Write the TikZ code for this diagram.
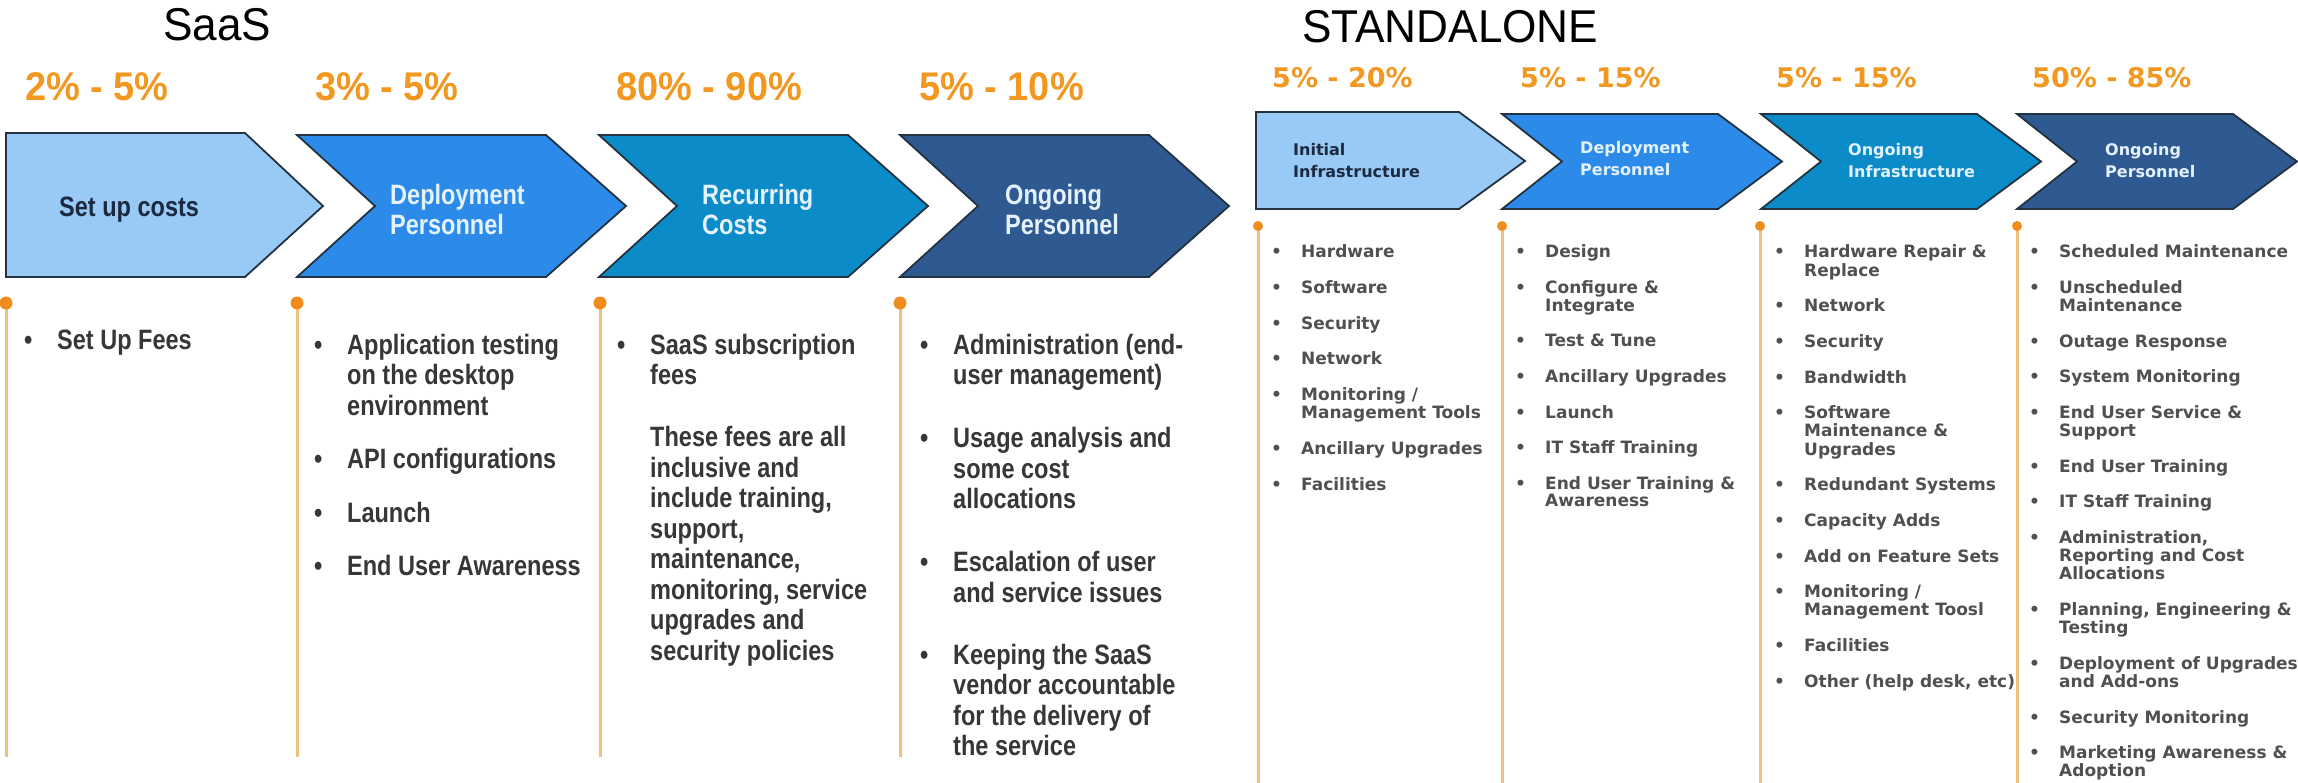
\documentclass[tikz,border=0pt]{standalone}
\usepackage{fontspec}
\setmainfont{Liberation Sans}
\newfontfamily\ttlfont[FakeStretch=0.96]{Liberation Sans}
\newfontfamily\nbfont[FakeStretch=0.84]{Liberation Sans}
\newfontfamily\pcfont[FakeStretch=0.95]{Liberation Sans}
\newfontfamily\dvfont{DejaVu Sans}
\definecolor{cA}{RGB}{153,201,245}
\definecolor{cB}{RGB}{44,139,232}
\definecolor{cC}{RGB}{11,139,200}
\definecolor{cD}{RGB}{46,90,145}
\definecolor{edgecol}{RGB}{35,50,65}
\definecolor{pctcol}{RGB}{242,152,32}
\definecolor{pincol}{RGB}{240,140,30}
\definecolor{stemcol}{RGB}{240,192,125}
\definecolor{navy}{RGB}{27,42,65}
\definecolor{lbl}{RGB}{228,242,255}
\definecolor{txtcol}{RGB}{55,55,55}
\definecolor{sttxt}{RGB}{80,80,80}
\newcommand\sabul{\makebox[33pt][l]{•}}
\newcommand\stbul{\makebox[30pt][l]{•}}
\tikzset{
 chev/.style={draw=edgecol, line width=1.8pt, line join=miter},
 stemline/.style={draw=stemcol, line width=3pt},
 pcsa/.style={text=pctcol, font=\pcfont\bfseries\fontsize{40}{44}\selectfont, anchor=base west, inner sep=0},
 pcst/.style={text=pctcol, font=\dvfont\bfseries\fontsize{27}{30}\selectfont, anchor=base west, inner sep=0},
 salbl/.style={font=\nbfont\bfseries\fontsize{28}{30}\selectfont, anchor=base west, inner sep=0},
 stlbl/.style={font=\dvfont\bfseries\fontsize{16}{22}\selectfont, anchor=base west, inner sep=0},
 sacol/.style={text=txtcol, font=\nbfont\bfseries\fontsize{28}{30.5}\selectfont, anchor=base west, inner sep=0},
 stcol/.style={text=sttxt, font=\dvfont\bfseries\fontsize{17}{17.5}\selectfont, anchor=base west, inner sep=0},
 ttl/.style={font=\ttlfont\fontsize{46}{50}\selectfont, anchor=base west, inner sep=0},
}
\begin{document}
\begin{tikzpicture}[x=1pt,y=-1pt]
\fill[white] (0,0) rectangle (2298,783);
\useasboundingbox (0,0) rectangle (2298,783);

% titles
\node[ttl] (tsaas) at (163,41) {SaaS};
\node[ttl] (tstand) at (1302,43) {STANDALONE};

% ---------- SaaS chevrons
\draw[chev, fill=cA] (6,133) -- (245,133) -- (323,206) -- (245,277) -- (6,277) -- cycle;
\foreach \L/\c in {297/cB, 599/cC, 900/cD}
  \draw[chev, fill=\c] (\L,135) -- ++(249,0) -- ++(80,71) -- ++(-80,71) -- ++(-249,0) -- ++(78,-71) -- cycle;

% SaaS percents
\node[pcsa] (p1) at (25,101) {2\% - 5\%};
\node[pcsa] (p2) at (315,101) {3\% - 5\%};
\node[pcsa] (p3) at (616,101) {80\% - 90\%};
\node[pcsa] (p4) at (919,101) {5\% - 10\%};

% SaaS chevron labels
\node[salbl, text=navy] (l1) at (59,217) {Set up costs};
\node[salbl, text=lbl] (l2) at (390,205) {\begin{tabular}[t]{@{}l@{}}Deployment\\Personnel\end{tabular}};
\node[salbl, text=lbl] (l3) at (702,205) {\begin{tabular}[t]{@{}l@{}}Recurring\\Costs\end{tabular}};
\node[salbl, text=lbl] (l4) at (1005,205) {\begin{tabular}[t]{@{}l@{}}Ongoing\\Personnel\end{tabular}};

% SaaS stems
\foreach \x in {6,297,600,900} {
  \draw[stemline] (\x,303) -- (\x,757);
  \fill[pincol] (\x,303) circle (6.5);
}

% SaaS columns
\node[sacol] (sa1) at (24,349) {\begin{tabular}[t]{@{}l@{}l@{}}\sabul & Set Up Fees\end{tabular}};
\node[sacol] (sa2) at (314,354) {\begin{tabular}[t]{@{}l@{}l@{}}
\sabul & Application testing\\
 & on the desktop\\
 & environment\\[23pt]
\sabul & API configurations\\[23pt]
\sabul & Launch\\[23pt]
\sabul & End User Awareness
\end{tabular}};
\node[sacol] (sa3) at (617,354) {\begin{tabular}[t]{@{}l@{}l@{}}
\sabul & SaaS subscription\\
 & fees\\[31.5pt]
 & These fees are all\\
 & inclusive and\\
 & include training,\\
 & support,\\
 & maintenance,\\
 & monitoring, service\\
 & upgrades and\\
 & security policies
\end{tabular}};
\node[sacol] (sa4) at (920,354) {\begin{tabular}[t]{@{}l@{}l@{}}
\sabul & Administration (end-\\
 & user management)\\[32.5pt]
\sabul & Usage analysis and\\
 & some cost\\
 & allocations\\[32.5pt]
\sabul & Escalation of user\\
 & and service issues\\[31.5pt]
\sabul & Keeping the SaaS\\
 & vendor accountable\\
 & for the delivery of\\
 & the service
\end{tabular}};

% ---------- STANDALONE chevrons
\draw[chev, fill=cA] (1256,112) -- (1459,112) -- (1525,161) -- (1459,209) -- (1256,209) -- cycle;
\foreach \L/\c in {1502/cB, 1761/cC, 2017/cD}
  \draw[chev, fill=\c] (\L,114) -- ++(216,0) -- ++(64,47.5) -- ++(-64,47.5) -- ++(-216,0) -- ++(60,-47.5) -- cycle;

% standalone percents
\node[pcst] (q1) at (1272,88) {5\% - 20\%};
\node[pcst] (q2) at (1520,88) {5\% - 15\%};
\node[pcst] (q3) at (1776,88) {5\% - 15\%};
\node[pcst] (q4) at (2032,88) {50\% - 85\%};

% standalone chevron labels
\node[stlbl, text=navy] (m1) at (1293,156) {\begin{tabular}[t]{@{}l@{}}Initial\\Infrastructure\end{tabular}};
\node[stlbl, text=lbl] (m2) at (1580,154) {\begin{tabular}[t]{@{}l@{}}Deployment\\Personnel\end{tabular}};
\node[stlbl, text=lbl] (m3) at (1848,156) {\begin{tabular}[t]{@{}l@{}}Ongoing\\Infrastructure\end{tabular}};
\node[stlbl, text=lbl] (m4) at (2105,156) {\begin{tabular}[t]{@{}l@{}}Ongoing\\Personnel\end{tabular}};

% standalone stems
\foreach \x in {1258,1502,1760,2017} {
  \draw[stemline] (\x,226) -- (\x,783);
  \fill[pincol] (\x,226) circle (5);
}

% standalone columns
\node[stcol] (st1) at (1271,258) {\begin{tabular}[t]{@{}l@{}l@{}}
\stbul & Hardware\\[17.5pt]
\stbul & Software\\[17.5pt]
\stbul & Security\\[17.5pt]
\stbul & Network\\[17.5pt]
\stbul & Monitoring /\\
 & Management Tools\\[17.5pt]
\stbul & Ancillary Upgrades\\[17.5pt]
\stbul & Facilities
\end{tabular}};
\node[stcol] (st2) at (1515,258) {\begin{tabular}[t]{@{}l@{}l@{}}
\stbul & Design\\[17.5pt]
\stbul & Configure \&\\
 & Integrate\\[17.5pt]
\stbul & Test \& Tune\\[17.5pt]
\stbul & Ancillary Upgrades\\[17.5pt]
\stbul & Launch\\[17.5pt]
\stbul & IT Staff Training\\[17.5pt]
\stbul & End User Training \&\\
 & Awareness
\end{tabular}};
\node[stcol] (st3) at (1774,258) {\begin{tabular}[t]{@{}l@{}l@{}}
\stbul & Hardware Repair \&\\
 & Replace\\[17.5pt]
\stbul & Network\\[17.5pt]
\stbul & Security\\[17.5pt]
\stbul & Bandwidth\\[17.5pt]
\stbul & Software\\
 & Maintenance \&\\
 & Upgrades\\[17.5pt]
\stbul & Redundant Systems\\[17.5pt]
\stbul & Capacity Adds\\[17.5pt]
\stbul & Add on Feature Sets\\[17.5pt]
\stbul & Monitoring /\\
 & Management Toosl\\[17.5pt]
\stbul & Facilities\\[17.5pt]
\stbul & Other (help desk, etc)
\end{tabular}};
\node[stcol] (st4) at (2029,258) {\begin{tabular}[t]{@{}l@{}l@{}}
\stbul & Scheduled Maintenance\\[17.5pt]
\stbul & Unscheduled\\
 & Maintenance\\[17.5pt]
\stbul & Outage Response\\[17.5pt]
\stbul & System Monitoring\\[17.5pt]
\stbul & End User Service \&\\
 & Support\\[17.5pt]
\stbul & End User Training\\[17.5pt]
\stbul & IT Staff Training\\[17.5pt]
\stbul & Administration,\\
 & Reporting and Cost\\
 & Allocations\\[17.5pt]
\stbul & Planning, Engineering \&\\
 & Testing\\[17.5pt]
\stbul & Deployment of Upgrades\\
 & and Add-ons\\[17.5pt]
\stbul & Security Monitoring\\[17.5pt]
\stbul & Marketing Awareness \&\\
 & Adoption
\end{tabular}};
\end{tikzpicture}
\end{document}
